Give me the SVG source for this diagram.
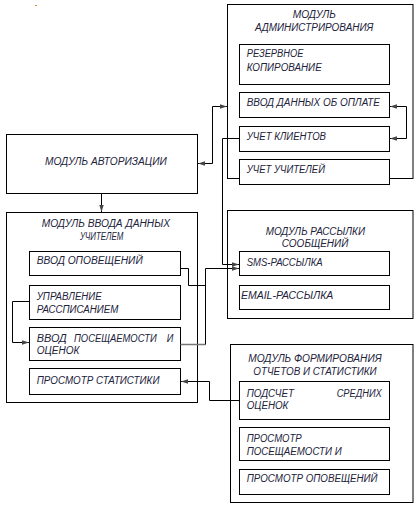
<svg xmlns="http://www.w3.org/2000/svg" width="417" height="506" viewBox="0 0 417 506">
<style>
.box{fill:#fff;stroke:#000;stroke-width:1}
.t{font-family:"Liberation Sans",Arial,sans-serif;font-style:italic;font-size:10px;fill:#22223a}
.c{fill:none;stroke:#000;stroke-width:1}
</style>
<defs>
<marker id="ar" markerUnits="userSpaceOnUse" markerWidth="8" markerHeight="6" refX="7" refY="3" orient="auto-start-reverse">
<path d="M0,0.8 L7,3 L0,5.2 Z" fill="#444"/>
</marker>
</defs>
<rect x="35" y="5" width="2" height="1" fill="#d08a2a"/>

<g id="admin">
<rect class="box" x="227.5" y="4.5" width="185.5" height="174"/>
<text class="t" x="292.7" y="18.3" textLength="43.3" lengthAdjust="spacingAndGlyphs">МОДУЛЬ</text>
<text class="t" x="255" y="30.5" textLength="118.3" lengthAdjust="spacingAndGlyphs">АДМИНИСТРИРОВАНИЯ</text>
</g>
<g id="backup">
<rect class="box" x="239.5" y="44.5" width="150" height="40"/>
<text class="t" x="246.7" y="57.3" textLength="56.7" lengthAdjust="spacingAndGlyphs">РЕЗЕРВНОЕ</text>
<text class="t" x="246.7" y="71" textLength="75" lengthAdjust="spacingAndGlyphs">КОПИРОВАНИЕ</text>
</g>
<g id="payment">
<rect class="box" x="239.5" y="92.5" width="150" height="25"/>
<text class="t" x="246.7" y="106" textLength="133.3" lengthAdjust="spacingAndGlyphs">ВВОД ДАННЫХ ОБ ОПЛАТЕ</text>
</g>
<g id="clients">
<rect class="box" x="239.5" y="126.5" width="150" height="25"/>
<text class="t" x="246.7" y="140" textLength="79.3" lengthAdjust="spacingAndGlyphs">УЧЕТ КЛИЕНТОВ</text>
</g>
<g id="teachers">
<rect class="box" x="239.5" y="159.5" width="150" height="25"/>
<text class="t" x="246.7" y="173" textLength="78.3" lengthAdjust="spacingAndGlyphs">УЧЕТ УЧИТЕЛЕЙ</text>
</g>

<g id="auth">
<rect class="box" x="6.5" y="134.5" width="191" height="59"/>
<text class="t" x="45" y="165" textLength="121.7" lengthAdjust="spacingAndGlyphs">МОДУЛЬ АВТОРИЗАЦИИ</text>
</g>

<g id="teacher-module">
<rect class="box" x="6.5" y="212.5" width="191" height="190"/>
<text class="t" x="41.7" y="227.3" textLength="128.3" lengthAdjust="spacingAndGlyphs">МОДУЛЬ ВВОДА ДАННЫХ</text>
<text class="t" x="80" y="240" textLength="43.3" lengthAdjust="spacingAndGlyphs">УЧИТЕЛЕМ</text>
</g>
<g id="notify-input">
<rect class="box" x="29.5" y="251.5" width="151" height="24"/>
<text class="t" x="36.7" y="264.3" textLength="106" lengthAdjust="spacingAndGlyphs">ВВОД ОПОВЕЩЕНИЙ</text>
</g>
<g id="schedule">
<rect class="box" x="29.5" y="285.5" width="151" height="34"/>
<text class="t" x="36.7" y="300" textLength="65" lengthAdjust="spacingAndGlyphs">УПРАВЛЕНИЕ</text>
<text class="t" x="36.7" y="313.3" textLength="81.7" lengthAdjust="spacingAndGlyphs">РАССПИСАНИЕМ</text>
</g>
<g id="attendance">
<rect class="box" x="29.5" y="327.5" width="151" height="33"/>
<text class="t" y="341.7"><tspan x="36.7" textLength="30" lengthAdjust="spacingAndGlyphs">ВВОД</tspan> <tspan x="74" textLength="82.7" lengthAdjust="spacingAndGlyphs">ПОСЕЩАЕМОСТИ</tspan> <tspan x="166.7" textLength="6.6" lengthAdjust="spacingAndGlyphs">И</tspan></text>
<text class="t" x="36.7" y="354" textLength="42.7" lengthAdjust="spacingAndGlyphs">ОЦЕНОК</text>
</g>
<g id="stats-view">
<rect class="box" x="29.5" y="368.5" width="151" height="26"/>
<text class="t" x="36.7" y="384" textLength="122.7" lengthAdjust="spacingAndGlyphs">ПРОСМОТР СТАТИСТИКИ</text>
</g>

<g id="mailing">
<rect class="box" x="227.5" y="210.5" width="185.5" height="108"/>
<text class="t" x="265.7" y="235" textLength="99.3" lengthAdjust="spacingAndGlyphs">МОДУЛЬ РАССЫЛКИ</text>
<text class="t" x="281.7" y="247.3" textLength="66.7" lengthAdjust="spacingAndGlyphs">СООБЩЕНИЙ</text>
</g>
<g id="sms">
<rect class="box" x="239.5" y="251.5" width="150" height="24"/>
<text class="t" x="246.7" y="265.7" textLength="76" lengthAdjust="spacingAndGlyphs">SMS-РАССЫЛКА</text>
</g>
<g id="email">
<rect class="box" x="239.5" y="285.5" width="150" height="24"/>
<text class="t" x="241" y="299" textLength="92.3" lengthAdjust="spacingAndGlyphs">EMAIL-РАССЫЛКА</text>
</g>

<g id="reports">
<rect class="box" x="230.5" y="344.5" width="182.5" height="158"/>
<text class="t" x="248.3" y="361.7" textLength="133.3" lengthAdjust="spacingAndGlyphs">МОДУЛЬ ФОРМИРОВАНИЯ</text>
<text class="t" x="253.3" y="375" textLength="123.3" lengthAdjust="spacingAndGlyphs">ОТЧЕТОВ И СТАТИСТИКИ</text>
</g>
<g id="averages">
<rect class="box" x="239.5" y="381.5" width="150" height="38"/>
<text class="t" y="396.7"><tspan x="246.7" textLength="47.3" lengthAdjust="spacingAndGlyphs">ПОДСЧЕТ</tspan> <tspan x="336.7" textLength="45" lengthAdjust="spacingAndGlyphs">СРЕДНИХ</tspan></text>
<text class="t" x="246.7" y="409" textLength="41.7" lengthAdjust="spacingAndGlyphs">ОЦЕНОК</text>
</g>
<g id="attendance-view">
<rect class="box" x="239.5" y="427.5" width="150" height="33"/>
<text class="t" x="246.7" y="442.3" textLength="55" lengthAdjust="spacingAndGlyphs">ПРОСМОТР</text>
<text class="t" x="246.7" y="455" textLength="95" lengthAdjust="spacingAndGlyphs">ПОСЕЩАЕМОСТИ И</text>
</g>
<g id="notify-view">
<rect class="box" x="239.5" y="469.5" width="150" height="25"/>
<text class="t" x="246.7" y="481.7" textLength="130.7" lengthAdjust="spacingAndGlyphs">ПРОСМОТР ОПОВЕЩЕНИЙ</text>
</g>

<g id="connectors">
<path class="c" d="M198,163.5 H212.5 V106.5 H227" marker-start="url(#ar)" marker-end="url(#ar)"/>
<path class="c" d="M101.5,193.5 V212" marker-end="url(#ar)"/>
<path class="c" d="M390,106.5 H406.5 V138.5 H390" marker-start="url(#ar)" marker-end="url(#ar)"/>
<path class="c" d="M239.5,138.5 H222.5 V264.5 H239" marker-end="url(#ar)"/>
<path class="c" d="M180.5,268.5 H188.5 V285.5 H205.5"/>
<path d="M180.5,344.5 H205.5" fill="none" stroke="#777" stroke-width="1.5"/>
<path class="c" d="M205.5,344.5 V268.5 H239" marker-end="url(#ar)"/>
<path class="c" d="M29.5,301.5 H12.5 V342.5 H29" marker-end="url(#ar)"/>
<path class="c" d="M239.5,400.5 H209.5 V381.5 H181" marker-end="url(#ar)"/>
</g>
</svg>
